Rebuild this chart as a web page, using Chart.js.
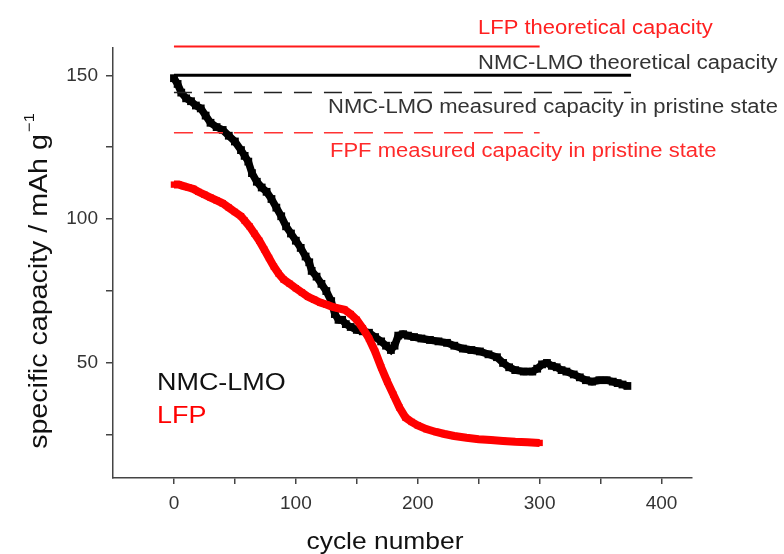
<!DOCTYPE html>
<html>
<head>
<meta charset="utf-8">
<script src="https://cdn.jsdelivr.net/npm/chart.js@4"></script>
<style>
  html, body { margin: 0; padding: 0; background: #fff; }
  canvas { display: block; }
</style>
</head>
<body>
<canvas id="capacityChart" width="784" height="554"></canvas>
<script>
// cycling data
const nmcCycles = [0, 3, 6, 10, 14, 18, 22, 26, 30, 35, 40, 45, 50, 55, 58, 61, 64, 68, 72, 76, 80, 84, 88, 92, 96, 100,
  104, 108, 111, 113, 117, 121, 125, 129, 132, 135, 138, 141, 145, 150, 155, 160, 165, 170, 174, 178, 181, 184, 188,
  192, 197, 203, 210, 217, 224, 230, 237, 244, 251, 258, 265, 270, 275, 280, 287, 294, 298, 302, 306, 310, 314, 318,
  322, 328, 333, 338, 343, 349, 355, 360, 364, 368, 372];
const nmcCapacity = [149, 147, 144, 142, 141, 139.5, 138.5, 136, 133.5, 132, 131, 129, 127, 124, 122, 120, 116, 113, 111,
  109.5, 107, 104, 101, 97.5, 95, 92.5, 90, 87, 85, 82, 80, 77.5, 75, 71.5, 67, 65, 65, 63.5, 62.5, 61.5, 61, 60.5, 59,
  57.5, 56, 54.5, 56, 59.5, 60, 59.5, 59, 58.5, 58, 57.5, 57, 56, 55, 54.5, 54, 53, 52, 50, 48.5, 47.5, 47, 47, 48, 49.5,
  50, 49, 48.5, 47.5, 47, 46, 45, 44, 43.5, 44, 44, 43.5, 43, 42.5, 42];

const lfpCycles = [0, 4, 8, 12, 16, 20, 25, 30, 35, 40, 45, 50, 55, 58, 62, 66, 70, 74, 78, 82, 86, 90, 95, 100, 105, 110,
  115, 120, 125, 130, 135, 140, 145, 150, 155, 160, 165, 170, 175, 180, 185, 190, 195, 200, 207, 215, 222, 230, 240,
  250, 260, 270, 280, 290, 300];
const lfpCapacity = [112, 112, 111.5, 111, 110.5, 109.5, 108.5, 107.5, 106.5, 105.5, 104, 102.5, 101, 99.5, 97.5, 95, 92.5,
  89.5, 86.5, 83.5, 81, 79, 77.5, 76, 74.5, 73, 72, 71, 70.3, 69.5, 69, 68.5, 67, 65, 62, 58.5, 54, 48.5, 43.5, 39, 34.5,
  31, 29.5, 28.3, 27, 26, 25.3, 24.6, 24, 23.5, 23.2, 22.9, 22.6, 22.4, 22.2];

// reference capacities
const refNames = ["LFP theoretical capacity", "NMC-LMO theoretical capacity",
  "NMC-LMO measured capacity in pristine state", "FPF measured capacity in pristine state"];
const refValues = [160, 150, 144, 130];
const refEnds = [300, 375, 375, 300];

const xTicks = [0, 50, 100, 150, 200, 250, 300, 350, 400];
const yTicks = [25, 50, 75, 100, 125, 150];

const refStyles = [
  { color: "#ff1a1a", width: 2, dash: [] },
  { color: "#000000", width: 3, dash: [] },
  { color: "#222222", width: 1.5, dash: [18, 12] },
  { color: "#ff3333", width: 1.5, dash: [19, 11] },
];

const toPoints = (xs, ys) => xs.map((x, i) => ({ x: x, y: ys[i] }));

const datasets = refNames.map((name, i) => ({
  label: name,
  data: [{ x: 0, y: refValues[i] }, { x: refEnds[i], y: refValues[i] }],
  showLine: true,
  borderColor: refStyles[i].color,
  borderWidth: refStyles[i].width,
  borderDash: refStyles[i].dash,
  pointRadius: 0,
  clip: false,
}));

datasets.push({
  label: "LFP",
  data: toPoints(lfpCycles, lfpCapacity),
  showLine: true,
  borderColor: "#ff0000",
  backgroundColor: "#ff0000",
  borderWidth: 8,
  pointStyle: "rect",
  pointRadius: 4.5,
  pointBorderWidth: 0,
});
datasets.push({
  label: "NMC-LMO",
  data: toPoints(nmcCycles, nmcCapacity),
  showLine: true,
  borderColor: "#000000",
  backgroundColor: "#000000",
  borderWidth: 7.5,
  pointStyle: "rect",
  pointRadius: 5.5,
  pointBorderWidth: 0,
});

const FONT = "'Liberation Sans', Arial, sans-serif";

function drawText(ctx, text, x, y, size, color, sx) {
  ctx.save();
  ctx.font = size + "px " + FONT;
  ctx.fillStyle = color;
  ctx.textBaseline = "alphabetic";
  ctx.translate(x, y);
  ctx.scale(sx, 1);
  ctx.fillText(text, 0, 0);
  ctx.restore();
}

const labelsPlugin = {
  id: "labels",
  afterDraw(chart) {
    const ctx = chart.ctx;
    const s = 1.1;
    drawText(ctx, refNames[0], 478, 34, 20, "#ff2020", s);
    drawText(ctx, refNames[1], 478, 69, 20, "#333333", s);
    drawText(ctx, refNames[2], 328, 113, 20, "#333333", s);
    drawText(ctx, refNames[3], 330, 157, 20, "#ff2a2a", s);
    drawText(ctx, "NMC-LMO", 157, 390, 24.5, "#111111", s);
    drawText(ctx, "LFP", 157, 423, 24.5, "#ff0000", s);

    // x axis title
    ctx.save();
    ctx.font = "24px " + FONT;
    const cw = ctx.measureText("cycle number").width * s;
    ctx.restore();
    drawText(ctx, "cycle number", 385 - cw / 2, 549, 24, "#111111", s);

    // y axis title with superscript
    ctx.save();
    ctx.translate(47, 281);
    ctx.rotate(-Math.PI / 2);
    ctx.scale(s, 1);
    ctx.fillStyle = "#111111";
    ctx.font = "26px " + FONT;
    const main = "specific capacity / mAh g";
    const w1 = ctx.measureText(main).width;
    ctx.font = "15px " + FONT;
    const w2 = ctx.measureText("\u22121").width;
    const x0 = -(w1 + w2 + 2) / 2;
    ctx.font = "26px " + FONT;
    ctx.fillText(main, x0, 0);
    ctx.font = "15px " + FONT;
    ctx.fillText("\u22121", x0 + w1 + 2, -13);
    ctx.restore();
  },
};

new Chart(document.getElementById("capacityChart").getContext("2d"), {
  type: "scatter",
  data: { datasets: datasets },
  plugins: [labelsPlugin],
  options: {
    responsive: false,
    animation: false,
    layout: { padding: { top: 48, right: 92, bottom: 0, left: 0 } },
    plugins: {
      legend: { display: false },
      tooltip: { enabled: false },
    },
    scales: {
      x: {
        type: "linear",
        min: -50,
        max: 425,
        afterFit: (scale) => { scale.height = 76; },
        afterBuildTicks: (scale) => { scale.ticks = xTicks.map((v) => ({ value: v })); },
        border: { display: true, color: "#444444", width: 1.5 },
        grid: { display: true, drawOnChartArea: false, drawTicks: true, tickLength: 6, color: "#444444", lineWidth: 1.5 },
        ticks: {
          autoSkip: false,
          maxRotation: 0,
          padding: 8,
          color: "#333333",
          font: { family: FONT, size: 19 },
          callback: (v) => (v % 100 === 0 ? v : ""),
        },
      },
      y: {
        type: "linear",
        min: 10,
        max: 159.5,
        afterFit: (scale) => { scale.width = 113; },
        afterBuildTicks: (scale) => { scale.ticks = yTicks.map((v) => ({ value: v })); },
        border: { display: true, color: "#444444", width: 1.5 },
        grid: { display: true, drawOnChartArea: false, drawTicks: true, tickLength: 7, color: "#444444", lineWidth: 1.5 },
        ticks: {
          autoSkip: false,
          padding: 8,
          color: "#333333",
          font: { family: FONT, size: 19 },
          callback: (v) => (v % 50 === 0 ? v : ""),
        },
      },
    },
  },
});
</script>
</body>
</html>
